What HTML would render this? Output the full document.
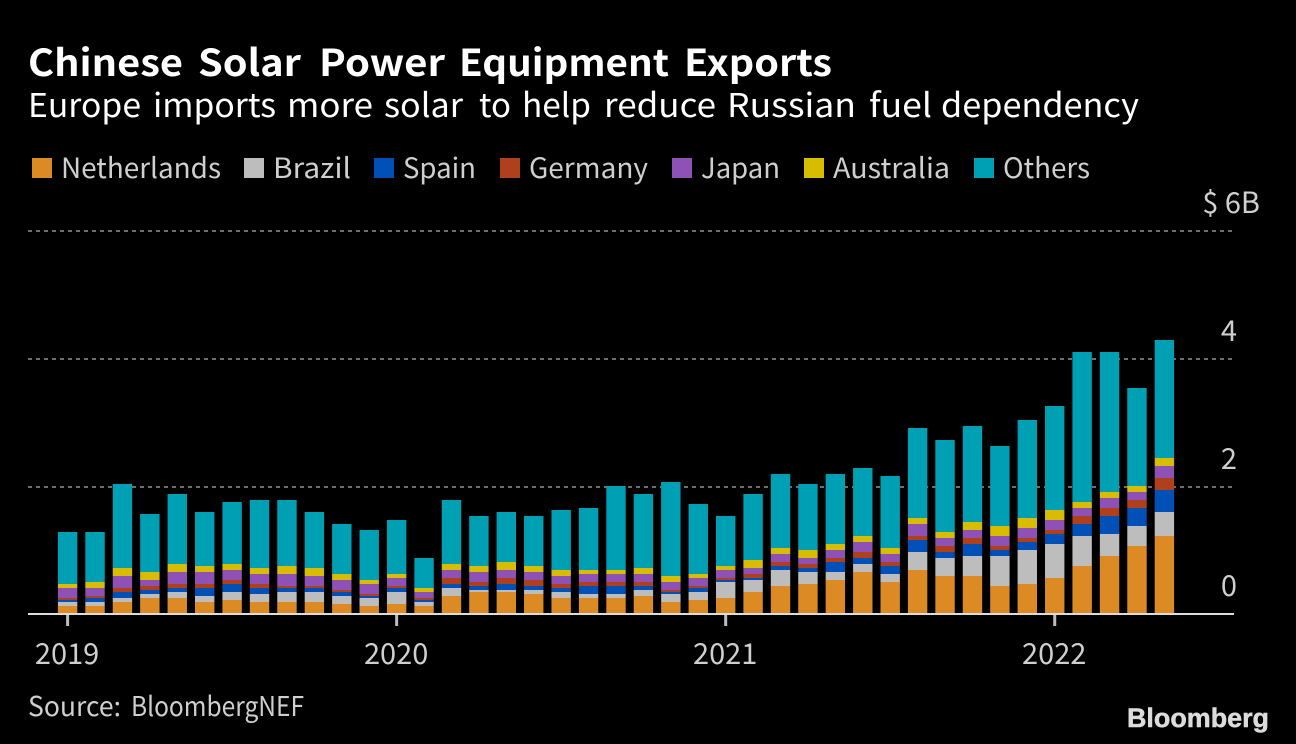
<!DOCTYPE html>
<html lang="en">
<head>
<meta charset="utf-8">
<title>Chinese Solar Power Equipment Exports</title>
<style>
html,body{margin:0;padding:0;background:#000;width:1296px;height:744px;overflow:hidden}
svg{display:block}
text{font-family:"Noto Sans CJK JP","Liberation Sans",sans-serif}
.leg{font-size:28px;fill:#cfcfcf}
.tick{font-size:29px;fill:#cfcfcf}
</style>
</head>
<body>
<svg id="chart" width="1296" height="744" viewBox="0 0 1296 744" xmlns="http://www.w3.org/2000/svg">
  <rect x="0" y="0" width="1296" height="744" fill="#000"/>
  <text y="76" font-size="37" font-weight="700" fill="#fff" lengthAdjust="spacingAndGlyphs"><tspan x="28" textLength="155" lengthAdjust="spacingAndGlyphs">Chinese</tspan> <tspan x="198" textLength="103" lengthAdjust="spacingAndGlyphs">Solar</tspan> <tspan x="319" textLength="126" lengthAdjust="spacingAndGlyphs">Power</tspan> <tspan x="459" textLength="210" lengthAdjust="spacingAndGlyphs">Equipment</tspan> <tspan x="684" textLength="148" lengthAdjust="spacingAndGlyphs">Exports</tspan></text>
  <text y="117" font-size="33" fill="#fff"><tspan x="28" textLength="113" lengthAdjust="spacingAndGlyphs">Europe</tspan> <tspan x="153" textLength="123" lengthAdjust="spacingAndGlyphs">imports</tspan> <tspan x="287" textLength="86" lengthAdjust="spacingAndGlyphs">more</tspan> <tspan x="384" textLength="79" lengthAdjust="spacingAndGlyphs">solar</tspan> <tspan x="479" textLength="32" lengthAdjust="spacingAndGlyphs">to</tspan> <tspan x="522" textLength="69" lengthAdjust="spacingAndGlyphs">help</tspan> <tspan x="604" textLength="112" lengthAdjust="spacingAndGlyphs">reduce</tspan> <tspan x="727" textLength="129" lengthAdjust="spacingAndGlyphs">Russian</tspan> <tspan x="869" textLength="63" lengthAdjust="spacingAndGlyphs">fuel</tspan> <tspan x="941" textLength="198" lengthAdjust="spacingAndGlyphs">dependency</tspan></text>
  <g>
    <g><rect x="32" y="158" width="20" height="20" fill="#dc8a24"/><text class="leg" x="61" y="178" textLength="160" lengthAdjust="spacingAndGlyphs">Netherlands</text></g>
    <g><rect x="244" y="158" width="20" height="20" fill="#bdbdbd"/><text class="leg" x="273" y="178" textLength="78" lengthAdjust="spacingAndGlyphs">Brazil</text></g>
    <g><rect x="374" y="158" width="20" height="20" fill="#0050b8"/><text class="leg" x="403" y="178" textLength="73" lengthAdjust="spacingAndGlyphs">Spain</text></g>
    <g><rect x="500" y="158" width="20" height="20" fill="#b0401c"/><text class="leg" x="529" y="178" textLength="119" lengthAdjust="spacingAndGlyphs">Germany</text></g>
    <g><rect x="672" y="158" width="20" height="20" fill="#8e52b6"/><text class="leg" x="701" y="178" textLength="79" lengthAdjust="spacingAndGlyphs">Japan</text></g>
    <g><rect x="804" y="158" width="20" height="20" fill="#d8bc00"/><text class="leg" x="833" y="178" textLength="117" lengthAdjust="spacingAndGlyphs">Australia</text></g>
    <g><rect x="974" y="158" width="20" height="20" fill="#00a0b4"/><text class="leg" x="1003" y="178" textLength="87" lengthAdjust="spacingAndGlyphs">Others</text></g>
  </g>
  <g id="grid"></g>
  <g id="bars"></g>
  <g id="axes"></g>
  <text y="716" font-size="27" fill="#cfcfcf"><tspan x="28" textLength="93" lengthAdjust="spacingAndGlyphs">Source:</tspan> <tspan x="131" textLength="173" lengthAdjust="spacingAndGlyphs">BloombergNEF</tspan></text>
  <text x="1127" y="727" font-size="27" font-weight="700" fill="#dcdcdc" stroke="#dcdcdc" stroke-width="0.5" textLength="142" lengthAdjust="spacingAndGlyphs" style="font-family:'Liberation Sans',sans-serif">Bloomberg</text>
</svg>
<script>
const categories = ["2019-01","2019-02","2019-03","2019-04","2019-05","2019-06","2019-07","2019-08","2019-09","2019-10","2019-11","2019-12",
  "2020-01","2020-02","2020-03","2020-04","2020-05","2020-06","2020-07","2020-08","2020-09","2020-10","2020-11","2020-12",
  "2021-01","2021-02","2021-03","2021-04","2021-05","2021-06","2021-07","2021-08","2021-09","2021-10","2021-11","2021-12",
  "2022-01","2022-02","2022-03","2022-04","2022-05"];
const netherlands = [.125,.125,.188,.251,.251,.188,.219,.188,.188,.188,.157,.125,.157,.125,.282,.345,.345,.313,.251,.251,.251,.282,.188,.219,.251,.345,.439,.470,.533,.658,.501,.689,.595,.595,.439,.470,.564,.752,.909,1.065,1.222];
const brazil = [.063,.063,.063,.063,.094,.094,.125,.125,.157,.157,.125,.125,.188,.063,.125,.031,.031,.063,.094,.063,.063,.094,.125,.125,.251,.188,.251,.188,.125,.125,.125,.282,.282,.313,.470,.533,.533,.470,.345,.313,.376];
const spain = [.031,.063,.094,.063,.063,.125,.125,.094,.063,.063,.063,.031,.063,.031,.063,.063,.094,.063,.063,.125,.125,.063,.031,.063,.031,.031,.063,.063,.157,.094,.125,.188,.094,.188,.094,.125,.157,.188,.282,.282,.345];
const germany = [.031,.031,.063,.063,.063,.063,.063,.063,.031,.031,.031,.031,.031,.031,.094,.063,.094,.094,.063,.063,.063,.063,.031,.031,.031,.063,.063,.063,.063,.094,.063,.063,.094,.094,.063,.063,.063,.125,.125,.125,.188];
const japan = [.157,.125,.188,.094,.188,.188,.157,.157,.188,.157,.157,.157,.125,.094,.125,.157,.125,.125,.125,.125,.125,.125,.125,.125,.125,.094,.125,.094,.125,.157,.125,.188,.125,.125,.157,.157,.157,.125,.157,.125,.188];
const australia = [.063,.094,.125,.125,.125,.094,.094,.094,.125,.125,.094,.063,.063,.063,.094,.094,.125,.094,.094,.063,.063,.094,.094,.063,.063,.125,.094,.125,.094,.094,.094,.094,.094,.125,.157,.157,.157,.094,.094,.094,.125];
const others = [.815,.783,1.316,.909,1.097,.846,.971,1.065,1.034,.877,.783,.783,.846,.470,1.003,.783,.783,.783,.940,.971,1.316,1.159,1.473,1.097,.783,1.034,1.159,1.034,1.097,1.065,1.128,1.410,1.441,1.504,1.253,1.535,1.629,2.350,2.193,1.535,1.849];
const seriesNames = ["netherlands","brazil","spain","germany","japan","australia","others"];
const seriesColors = ["#dc8a24","#bdbdbd","#0050b8","#b0401c","#8e52b6","#d8bc00","#00a0b4"];
const seriesValues = [netherlands,brazil,spain,germany,japan,australia,others];
const yTicks = [0,2,4,6];
const yTickLabels = ["0","2","4","$ 6B"];
const xTickCategories = ["2019-01","2020-01","2021-01","2022-01"];
const xTickLabels = ["2019","2020","2021","2022"];

const NS = "http://www.w3.org/2000/svg";
function xCenter(i){ return 67.6 + i * 27.42; }
function yScale(v){ return 614.3 - v * 63.85; }
function make(tag, attrs, parent){
  const el = document.createElementNS(NS, tag);
  for (const k in attrs) el.setAttribute(k, attrs[k]);
  parent.appendChild(el);
  return el;
}
const gridG = document.getElementById("grid");
const barsG = document.getElementById("bars");
const axesG = document.getElementById("axes");

yTicks.forEach(function(t, i){
  const y = Math.round(yScale(t));
  if (t !== 0) {
    const line = make("line", {x1:28, x2:1234, y1:y, y2:y, stroke:"#6e6e6e", "stroke-width":2, "stroke-dasharray":"4 4"}, gridG);
    
    
  }
  const label = make("text", {x: t === 6 ? 1260 : 1237, y: y - 18, "text-anchor":"end", class:"tick"}, axesG);
  label.textContent = yTickLabels[i];
  
  
});

categories.forEach(function(cat, i){
  let cum = 0;
  seriesValues.forEach(function(vals, s){
    const y0 = Math.round(yScale(cum));
    cum += vals[i];
    const y1 = Math.round(yScale(cum));
    const r = make("rect", {x: xCenter(i) - 9.7, width: 19.4, y: y1, height: Math.max(0, y0 - y1), fill: seriesColors[s]}, barsG);
    
    
  });
});

const axisLine = make("rect", {x:28, y:613, width:1206, height:2, fill:"#dcdcdc"}, axesG);



xTickCategories.forEach(function(c, i){
  const x = xCenter(categories.indexOf(c));
  const tick = make("rect", {x: x - 1.5, y: 615, width: 3, height: 11, fill:"#bdbdbd"}, axesG);
  
  
  const label = make("text", {x: x - 0.5, y: 664, "text-anchor":"middle", class:"tick"}, axesG);
  label.textContent = xTickLabels[i];
  
  
});
</script>
</body>
</html>
